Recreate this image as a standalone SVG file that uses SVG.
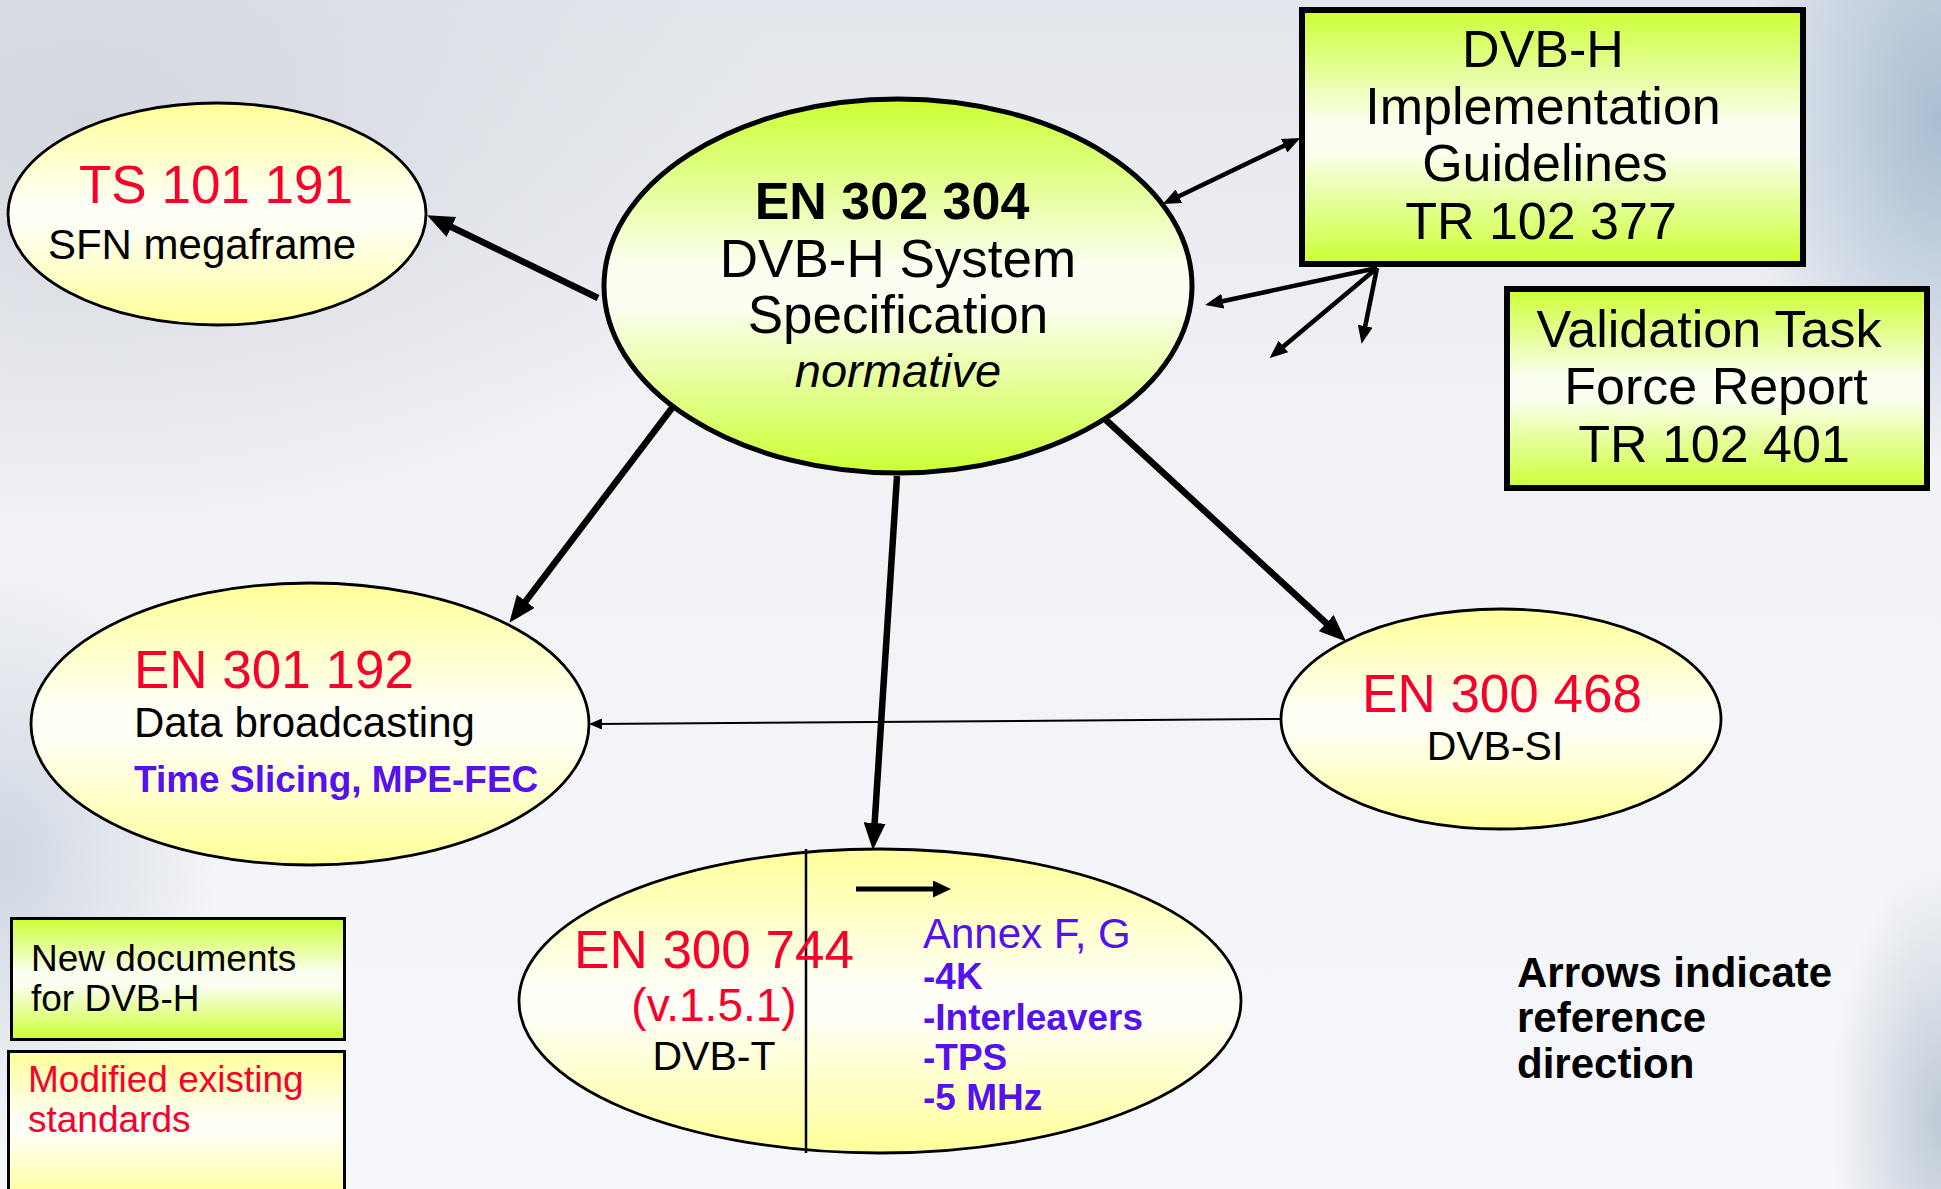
<svg xmlns="http://www.w3.org/2000/svg" width="1941" height="1189" viewBox="0 0 1941 1189">
<style>
text{font-family:"Liberation Sans",Arial,sans-serif;}
.red{fill:#f8002c;}
.blk{fill:#000;}
.pur{fill:#5511ee;}
.b{font-weight:bold;}
.yel{fill:url(#gYel);stroke:#000;stroke-width:2.8;}
.grn{fill:url(#gGrn);stroke:#000;}
.con{stroke:#000;fill:none;}
</style>
<defs>
<linearGradient id="gBg" x1="0" y1="0" x2="0" y2="1">
<stop offset="0" stop-color="#e3e6ec"/>
<stop offset="0.35" stop-color="#f1f2f6"/>
<stop offset="1" stop-color="#f6f7fa"/>
</linearGradient>
<radialGradient id="gTL" cx="0" cy="0" r="1" gradientUnits="userSpaceOnUse" gradientTransform="translate(80 120) scale(700 420)">
<stop offset="0" stop-color="#d4d8df" stop-opacity="1"/>
<stop offset="1" stop-color="#d4d8df" stop-opacity="0"/>
</radialGradient>
<radialGradient id="gTR" cx="0" cy="0" r="1" gradientUnits="userSpaceOnUse" gradientTransform="translate(1941 120) scale(200 340)">
<stop offset="0" stop-color="#a9bdd2" stop-opacity="1"/>
<stop offset="1" stop-color="#a9bdd2" stop-opacity="0"/>
</radialGradient>
<radialGradient id="gBR" cx="0" cy="0" r="1" gradientUnits="userSpaceOnUse" gradientTransform="translate(1941 1120) scale(110 260)">
<stop offset="0" stop-color="#bfcad6" stop-opacity="1"/>
<stop offset="1" stop-color="#bfcad6" stop-opacity="0"/>
</radialGradient>
<radialGradient id="gL" cx="0" cy="0" r="1" gradientUnits="userSpaceOnUse" gradientTransform="translate(0 860) scale(220 300)">
<stop offset="0" stop-color="#cfd7e1" stop-opacity="1"/>
<stop offset="1" stop-color="#cfd7e1" stop-opacity="0"/>
</radialGradient>
<linearGradient id="gYel" x1="0" y1="0" x2="0" y2="1">
<stop offset="0" stop-color="#ffff99"/>
<stop offset="0.45" stop-color="#fffff6"/>
<stop offset="0.55" stop-color="#fffff6"/>
<stop offset="1" stop-color="#ffff99"/>
</linearGradient>
<linearGradient id="gGrn" x1="0" y1="0" x2="0" y2="1">
<stop offset="0" stop-color="#ccff33"/>
<stop offset="0.45" stop-color="#fbfff2"/>
<stop offset="0.55" stop-color="#fbfff2"/>
<stop offset="1" stop-color="#ccff33"/>
</linearGradient>
<marker id="ahBig" markerWidth="27" markerHeight="22" refX="16" refY="11" orient="auto" markerUnits="userSpaceOnUse">
<path d="M0,0 L27,11 L0,22 z" fill="#000"/>
</marker>
<marker id="ahMed" markerWidth="18" markerHeight="15" refX="11" refY="7.5" orient="auto-start-reverse" markerUnits="userSpaceOnUse">
<path d="M0,0 L18,7.5 L0,15 z" fill="#000"/>
</marker>
<marker id="ahSm" markerWidth="13" markerHeight="11" refX="7" refY="5.5" orient="auto" markerUnits="userSpaceOnUse">
<path d="M0,0 L13,5.5 L0,11 z" fill="#000"/>
</marker>
<marker id="ahIn" markerWidth="18" markerHeight="17" refX="10" refY="8.5" orient="auto" markerUnits="userSpaceOnUse">
<path d="M0,0 L18,8.5 L0,17 z" fill="#000"/>
</marker>
</defs>

<g id="background">
<rect x="0" y="0" width="1941" height="1189" fill="url(#gBg)"/>
<rect x="0" y="0" width="1941" height="1189" fill="url(#gTL)"/>
<rect x="0" y="0" width="1941" height="1189" fill="url(#gTR)"/>
<rect x="0" y="0" width="1941" height="1189" fill="url(#gBR)"/>
<rect x="0" y="0" width="1941" height="1189" fill="url(#gL)"/>
</g>

<g id="connectors">
<line class="con" x1="598" y1="298" x2="437" y2="220" stroke-width="6.5" marker-end="url(#ahBig)"/>
<line class="con" x1="672" y1="408" x2="516" y2="614" stroke-width="6.5" marker-end="url(#ahBig)"/>
<line class="con" x1="897" y1="476" x2="873.6" y2="839" stroke-width="6.5" marker-end="url(#ahBig)"/>
<line class="con" x1="1106" y1="420" x2="1338" y2="634" stroke-width="6.5" marker-end="url(#ahBig)"/>
<line class="con" x1="1169" y1="201" x2="1294" y2="141" stroke-width="4.5" marker-start="url(#ahMed)" marker-end="url(#ahMed)"/>
<line class="con" x1="1377" y1="268" x2="1212" y2="303.5" stroke-width="4.5" marker-end="url(#ahMed)"/>
<line class="con" x1="1377" y1="268" x2="1275" y2="353.5" stroke-width="4.5" marker-end="url(#ahMed)"/>
<line class="con" x1="1377" y1="268" x2="1363" y2="337" stroke-width="4.5" marker-end="url(#ahMed)"/>
<line class="con" x1="1281" y1="719" x2="595" y2="724" stroke-width="2" marker-end="url(#ahSm)"/>
</g>

<g id="node-ts101191">
<ellipse class="yel" cx="217" cy="214" rx="209" ry="111"/>
<text class="red" x="216" y="203" font-size="53" text-anchor="middle">TS 101 191</text>
<text class="blk" x="202" y="259" font-size="42" text-anchor="middle">SFN megaframe</text>
</g>

<g id="node-en302304">
<ellipse class="grn" cx="898" cy="286" rx="294" ry="187" stroke-width="5"/>
<text class="blk b" x="892" y="219" font-size="52" text-anchor="middle">EN 302 304</text>
<text class="blk" x="898" y="277" font-size="53" text-anchor="middle">DVB-H System</text>
<text class="blk" x="898" y="333" font-size="53" text-anchor="middle">Specification</text>
<text class="blk" x="898" y="387" font-size="47" font-style="italic" text-anchor="middle">normative</text>
</g>

<g id="node-tr102377">
<rect class="grn" x="1302" y="10" width="501" height="254" stroke-width="6"/>
<text class="blk" x="1543" y="67" font-size="52" text-anchor="middle">DVB-H</text>
<text class="blk" x="1543" y="124" font-size="52" text-anchor="middle">Implementation</text>
<text class="blk" x="1545" y="181" font-size="52" text-anchor="middle">Guidelines</text>
<text class="blk" x="1541" y="239" font-size="52" text-anchor="middle">TR 102 377</text>
</g>

<g id="node-tr102401">
<rect class="grn" x="1507" y="289" width="420" height="199" stroke-width="6"/>
<text class="blk" x="1709" y="347" font-size="52" text-anchor="middle">Validation Task</text>
<text class="blk" x="1716" y="404" font-size="52" text-anchor="middle">Force Report</text>
<text class="blk" x="1714" y="462" font-size="52" text-anchor="middle">TR 102 401</text>
</g>

<g id="node-en301192">
<ellipse class="yel" cx="310" cy="724" rx="279" ry="141"/>
<text class="red" x="134" y="688" font-size="53">EN 301 192</text>
<text class="blk" x="134" y="737" font-size="42">Data broadcasting</text>
<text class="pur b" x="134" y="792" font-size="37">Time Slicing, MPE-FEC</text>
</g>

<g id="node-en300468">
<ellipse class="yel" cx="1501" cy="719" rx="220" ry="110"/>
<text class="red" x="1502" y="712" font-size="53" text-anchor="middle">EN 300 468</text>
<text class="blk" x="1495" y="760" font-size="41" text-anchor="middle">DVB-SI</text>
</g>

<g id="node-en300744">
<ellipse class="yel" cx="880" cy="1001" rx="361" ry="152"/>
<line x1="806" y1="849" x2="806" y2="1153" stroke="#000" stroke-width="2.5"/>
<line x1="856" y1="889" x2="943" y2="889" stroke="#000" stroke-width="5" marker-end="url(#ahIn)"/>
<text class="red" x="714" y="968" font-size="53" text-anchor="middle">EN 300 744</text>
<text class="red" x="714" y="1021" font-size="46" text-anchor="middle">(v.1.5.1)</text>
<text class="blk" x="714" y="1070" font-size="41" text-anchor="middle">DVB-T</text>
<text class="pur" x="923" y="948" font-size="42">Annex F, G</text>
<text class="pur b" x="923" y="989" font-size="37">-4K</text>
<text class="pur b" x="923" y="1030" font-size="37">-Interleavers</text>
<text class="pur b" x="923" y="1070" font-size="37">-TPS</text>
<text class="pur b" x="923" y="1110" font-size="37">-5 MHz</text>
</g>

<g id="legend-new">
<rect x="11.5" y="918.5" width="333" height="121" fill="url(#gGrn)" stroke="#000" stroke-width="3"/>
<text class="blk" x="31" y="971" font-size="37">New documents</text>
<text class="blk" x="31" y="1011" font-size="37">for DVB-H</text>
</g>

<g id="legend-modified">
<rect x="8.5" y="1051.5" width="336" height="150" fill="url(#gYel)" stroke="#000" stroke-width="3"/>
<text class="red" x="28" y="1092" font-size="37">Modified existing</text>
<text class="red" x="28" y="1132" font-size="37">standards</text>
</g>

<g id="note">
<text class="blk b" x="1517" y="987" font-size="42">Arrows indicate</text>
<text class="blk b" x="1517" y="1032" font-size="42">reference</text>
<text class="blk b" x="1517" y="1078" font-size="42">direction</text>
</g>
</svg>
